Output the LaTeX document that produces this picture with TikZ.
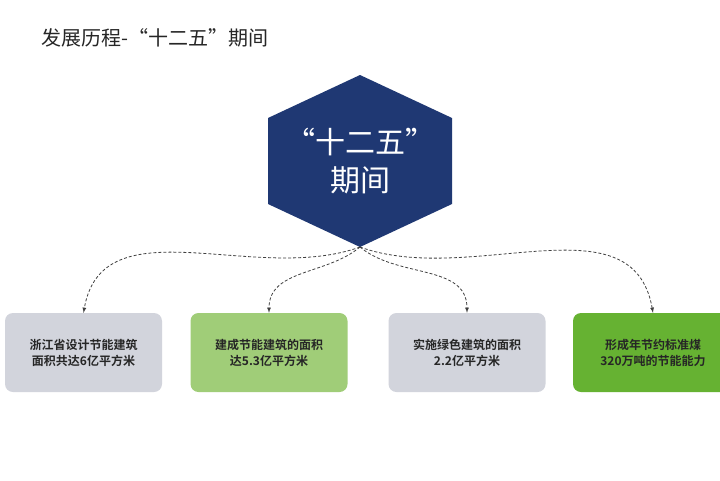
\documentclass[tikz,border=0pt]{standalone}
\usepackage{fontspec}
\setmainfont{Noto Sans CJK SC}
\newfontfamily\cjkb{Noto Sans CJK SC Bold}
\begin{document}
\begin{tikzpicture}[x=1pt,y=-1pt,
box/.style={rounded corners=8pt,minimum width=157pt,minimum height=79pt,inner sep=0pt,align=center,font=\cjkb\fontsize{12}{16}\selectfont,text=black!85},
conn/.style={densely dashed,black!75,line width=0.8pt,-latex}]
\useasboundingbox (0,0) rectangle (720,480);
\fill[white] (0,0) rectangle (720,480);
\node[anchor=west,font=\fontsize{20}{24}\selectfont,text=black!85] (title) at (38,38) {发展历程-“十二五”期间};
\fill[fill={rgb,255:red,31;green,56;blue,115}] (360,75) -- (452,118) -- (452,204) -- (360,247) -- (268,204) -- (268,118) -- cycle;
\node[font=\fontsize{30}{38}\selectfont,text=white,align=center] (hex) at (360,161) {“十二五”\\期间};
\coordinate (hb) at (360,247);
\node[box,fill={rgb,255:red,210;green,212;blue,220}] (b1) at (83.5,352.5) {浙江省设计节能建筑\\面积共达6亿平方米};
\node[box,fill={rgb,255:red,160;green,205;blue,120}] (b2) at (269,352.5) {建成节能建筑的面积\\达5.3亿平方米};
\node[box,fill={rgb,255:red,210;green,212;blue,220}] (b3) at (467,352.5) {实施绿色建筑的面积\\2.2亿平方米};
\node[box,fill={rgb,255:red,102;green,178;blue,50},minimum width=160pt] (b4) at (653,352.5) {形成年节约标准煤\\320万吨的节能能力};
\draw[conn] (hb) to[out=200,in=80] (b1.north);
\draw[conn] (hb) to[out=220,in=90] (b2.north);
\draw[conn] (hb) to[out=-40,in=90] (b3.north);
\draw[conn] (hb) to[out=-20,in=100] (b4.north);
\end{tikzpicture}
\end{document}
